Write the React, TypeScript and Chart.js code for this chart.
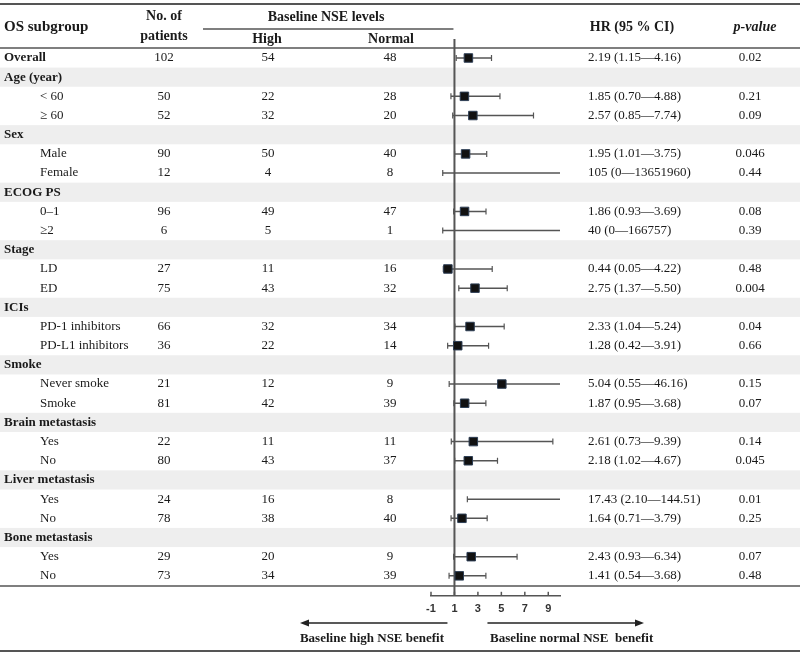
import React, { useEffect, useRef } from "react";
import { Chart, registerables } from "chart.js";

Chart.register(...registerables);

// ---------- data ----------
const rowLabels = [
  "Overall",
  "Age (year)", "< 60", "≥ 60",
  "Sex", "Male", "Female",
  "ECOG PS", "0–1", "≥2",
  "Stage", "LD", "ED",
  "ICIs", "PD-1 inhibitors", "PD-L1 inhibitors",
  "Smoke", "Never smoke", "Smoke",
  "Brain metastasis", "Yes", "No",
  "Liver metastasis", "Yes", "No",
  "Bone metastasis", "Yes", "No",
];
const patients = [102, null, 50, 52, null, 90, 12, null, 96, 6, null, 27, 75, null, 66, 36, null, 21, 81, null, 22, 80, null, 24, 78, null, 29, 73];
const highNSE = [54, null, 22, 32, null, 50, 4, null, 49, 5, null, 11, 43, null, 32, 22, null, 12, 42, null, 11, 43, null, 16, 38, null, 20, 34];
const normalNSE = [48, null, 28, 20, null, 40, 8, null, 47, 1, null, 16, 32, null, 34, 14, null, 9, 39, null, 11, 37, null, 8, 40, null, 9, 39];
const hr = [2.19, null, 1.85, 2.57, null, 1.95, 105, null, 1.86, 40, null, 0.44, 2.75, null, 2.33, 1.28, null, 5.04, 1.87, null, 2.61, 2.18, null, 17.43, 1.64, null, 2.43, 1.41];
const ciLow = [1.15, null, 0.70, 0.85, null, 1.01, 0, null, 0.93, 0, null, 0.05, 1.37, null, 1.04, 0.42, null, 0.55, 0.95, null, 0.73, 1.02, null, 2.10, 0.71, null, 0.93, 0.54];
const ciHigh = [4.16, null, 4.88, 7.74, null, 3.75, 13651960, null, 3.69, 166757, null, 4.22, 5.50, null, 5.24, 3.91, null, 46.16, 3.68, null, 9.39, 4.67, null, 144.51, 3.79, null, 6.34, 3.68];
const hrText = [
  "2.19 (1.15—4.16)", "", "1.85 (0.70—4.88)", "2.57 (0.85—7.74)",
  "", "1.95 (1.01—3.75)", "105 (0—13651960)",
  "", "1.86 (0.93—3.69)", "40 (0—166757)",
  "", "0.44 (0.05—4.22)", "2.75 (1.37—5.50)",
  "", "2.33 (1.04—5.24)", "1.28 (0.42—3.91)",
  "", "5.04 (0.55—46.16)", "1.87 (0.95—3.68)",
  "", "2.61 (0.73—9.39)", "2.18 (1.02—4.67)",
  "", "17.43 (2.10—144.51)", "1.64 (0.71—3.79)",
  "", "2.43 (0.93—6.34)", "1.41 (0.54—3.68)",
];
const pValues = ["0.02", "", "0.21", "0.09", "", "0.046", "0.44", "", "0.08", "0.39", "", "0.48", "0.004", "", "0.04", "0.66", "", "0.15", "0.07", "", "0.14", "0.045", "", "0.01", "0.25", "", "0.07", "0.48"];
const xTicks = [-1, 1, 3, 5, 7, 9];
const X_MIN = -1;
const X_MAX = 10;
const REF_VALUE = 1;

// ---------- helpers ----------
const SERIF = "'Liberation Serif', 'Times New Roman', serif";
const isHeaderRow = (i: number) => patients[i] === null;
const isBoldRow = (i: number) => i === 0 || isHeaderRow(i);

function txt(ctx: CanvasRenderingContext2D, s: string, x: number, y: number, font: string, align: CanvasTextAlign = "left", color = "#1a1a1a") {
  ctx.font = font;
  ctx.textAlign = align;
  ctx.textBaseline = "middle";
  ctx.fillStyle = color;
  ctx.fillText(s, x, y);
}

function hline(ctx: CanvasRenderingContext2D, x1: number, x2: number, y: number, w = 1.5, color = "#555") {
  ctx.beginPath();
  ctx.strokeStyle = color;
  ctx.lineWidth = w;
  ctx.moveTo(x1, y);
  ctx.lineTo(x2, y);
  ctx.stroke();
}

function arrow(ctx: CanvasRenderingContext2D, x1: number, x2: number, y: number) {
  ctx.save();
  ctx.strokeStyle = "#222";
  ctx.fillStyle = "#222";
  ctx.lineWidth = 1.5;
  const dir = Math.sign(x2 - x1);
  ctx.beginPath();
  ctx.moveTo(x1, y);
  ctx.lineTo(x2 - dir * 6, y);
  ctx.stroke();
  ctx.beginPath();
  ctx.moveTo(x2, y);
  ctx.lineTo(x2 - dir * 9, y - 3.5);
  ctx.lineTo(x2 - dir * 9, y + 3.5);
  ctx.closePath();
  ctx.fill();
  ctx.restore();
}

const tablePlugin = {
  id: "forestTable",
  beforeDraw(chart: any) {
    const { ctx, scales } = chart;
    const y = scales.y;
    ctx.save();
    ctx.fillStyle = "#ffffff";
    ctx.fillRect(0, 0, chart.width, chart.height);
    rowLabels.forEach((_, i) => {
      if (isHeaderRow(i)) {
        const t = y.getPixelForValue(i - 0.5);
        const b = y.getPixelForValue(i + 0.5);
        ctx.fillStyle = "#eeeeee";
        ctx.fillRect(0, t, chart.width, b - t);
      }
    });
    ctx.restore();
  },
  beforeDatasetsDraw(chart: any) {
    const { ctx, chartArea, scales } = chart;
    const xr = scales.x.getPixelForValue(REF_VALUE);
    ctx.save();
    ctx.beginPath();
    ctx.strokeStyle = "#555";
    ctx.lineWidth = 2;
    ctx.moveTo(xr, chartArea.top);
    ctx.lineTo(xr, chartArea.bottom);
    ctx.stroke();
    ctx.restore();
  },
  afterDraw(chart: any) {
    const { ctx, chartArea, scales } = chart;
    const x = scales.x;
    const y = scales.y;
    const W = chart.width;
    ctx.save();

    // header
    txt(ctx, "OS subgroup", 4, 27, `bold 15px ${SERIF}`);
    txt(ctx, "No. of", 164, 16, `bold 14px ${SERIF}`, "center");
    txt(ctx, "patients", 164, 36, `bold 14px ${SERIF}`, "center");
    txt(ctx, "Baseline NSE levels", 326, 17, `bold 14px ${SERIF}`, "center");
    txt(ctx, "High", 267, 39, `bold 14px ${SERIF}`, "center");
    txt(ctx, "Normal", 391, 39, `bold 14px ${SERIF}`, "center");
    txt(ctx, "HR (95 % CI)", 632, 27, `bold 14px ${SERIF}`, "center");
    txt(ctx, "p-value", 755, 27, `italic bold 14px ${SERIF}`, "center");

    // table lines
    hline(ctx, 0, W, 4, 2);
    hline(ctx, 203, x.getPixelForValue(REF_VALUE) - 1, 29, 1.5);
    hline(ctx, 0, W, 48, 1.5);
    hline(ctx, 0, W, 586, 1.5);
    hline(ctx, 0, W, 651, 2);

    // rows
    rowLabels.forEach((label, i) => {
      const py = y.getPixelForValue(i);
      if (isBoldRow(i)) {
        txt(ctx, label, 4, py, `bold 13px ${SERIF}`);
      } else {
        txt(ctx, label, 40, py, `13px ${SERIF}`);
      }
      if (patients[i] !== null) {
        txt(ctx, String(patients[i]), 164, py, `13px ${SERIF}`, "center");
        txt(ctx, String(highNSE[i]), 268, py, `13px ${SERIF}`, "center");
        txt(ctx, String(normalNSE[i]), 390, py, `13px ${SERIF}`, "center");
        txt(ctx, hrText[i], 588, py, `13px ${SERIF}`, "left");
        txt(ctx, pValues[i], 750, py, `13px ${SERIF}`, "center");
      }
    });

    // upward tick marks on the x axis
    ctx.strokeStyle = "#555";
    ctx.lineWidth = 1.5;
    x.ticks.forEach((t: any) => {
      const px = x.getPixelForValue(t.value);
      ctx.beginPath();
      ctx.moveTo(px, chartArea.bottom);
      ctx.lineTo(px, chartArea.bottom - 4);
      ctx.stroke();
    });

    // benefit arrows
    const xr = x.getPixelForValue(REF_VALUE);
    arrow(ctx, xr - 7, 300, 623);
    arrow(ctx, xr + 33, 644, 623);
    txt(ctx, "Baseline high NSE benefit", 372, 639, `bold 13px ${SERIF}`, "center");
    txt(ctx, "Baseline normal NSE  benefit", 490, 639, `bold 13px ${SERIF}`, "left");

    ctx.restore();
  },
};

export default function App() {
  const ref = useRef<HTMLCanvasElement>(null);

  useEffect(() => {
    const canvas = ref.current;
    if (!canvas) return;

    const dataRows = rowLabels.map((_, i) => i).filter((i) => hr[i] !== null);

    const ciSets = dataRows.map((i) => {
      const hi = ciHigh[i] as number;
      const clipped = hi > X_MAX;
      return {
        type: "line" as const,
        label: `ci-${i}`,
        data: [
          { x: ciLow[i] as number, y: i },
          { x: clipped ? X_MAX : hi, y: i },
        ],
        borderColor: "#555",
        borderWidth: 1.5,
        pointStyle: "line" as const,
        rotation: 90,
        pointRadius: [3, clipped ? 0 : 3],
        pointBorderColor: "#555",
        pointBorderWidth: 1.2,
        showLine: true,
        order: 2,
      };
    });

    const pointSet = {
      type: "scatter" as const,
      label: "HR",
      data: dataRows.map((i) => ({ x: hr[i] as number, y: i })),
      pointStyle: "rect" as const,
      pointRadius: 6,
      backgroundColor: "#111",
      borderColor: "#2d3e55",
      borderWidth: 1,
      order: 1,
    };

    const chart = new Chart(canvas, {
      type: "scatter",
      data: { datasets: [pointSet as any, ...(ciSets as any[])] },
      options: {
        responsive: false,
        animation: false,
        devicePixelRatio: 1,
        events: [],
        layout: { padding: { left: 431, right: 240, top: 39, bottom: 31 } },
        plugins: { legend: { display: false }, tooltip: { enabled: false } },
        scales: {
          x: {
            type: "linear",
            position: "bottom",
            min: X_MIN,
            max: X_MAX,
            afterBuildTicks: (s: any) => {
              s.ticks = xTicks.map((v) => ({ value: v }));
            },
            grid: { display: false, drawTicks: false },
            border: { display: true, color: "#555", width: 1.5 },
            ticks: {
              autoSkip: false,
              maxRotation: 0,
              padding: 7,
              color: "#333",
              font: { family: "'Liberation Sans', Arial, sans-serif", size: 11, weight: "bold" },
              callback: (v: any) => String(v),
            },
          },
          y: {
            type: "linear",
            display: false,
            reverse: true,
            min: -0.99,
            max: 28.04,
          },
        },
      },
      plugins: [tablePlugin],
    });

    return () => chart.destroy();
  }, []);

  return (
    <div style={{ position: "absolute", left: 0, top: 0, width: 800, height: 654, background: "#fff" }}>
      <canvas ref={ref} width={800} height={654} style={{ display: "block", width: 800, height: 654 }} />
    </div>
  );
}
